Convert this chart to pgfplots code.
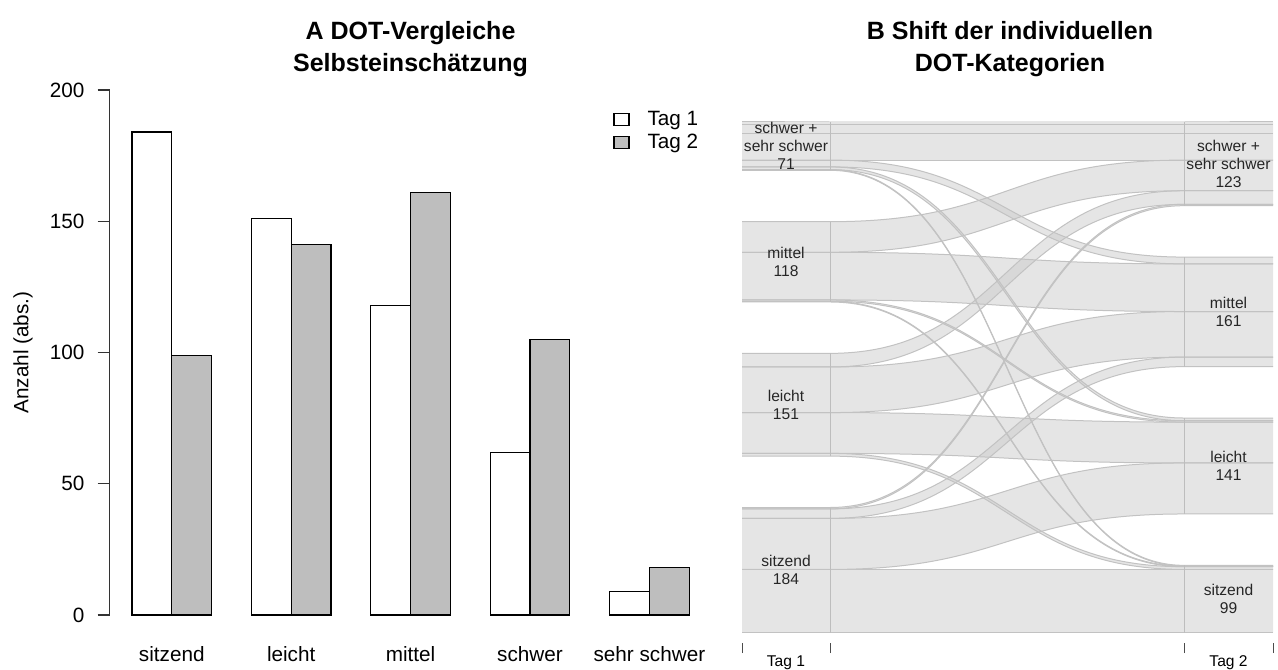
\documentclass[border=0pt]{standalone}
\usepackage{fontspec}
\setmainfont{Liberation Sans}
\usepackage{pgfplots}
\usepackage{pgfplotstable}
\pgfplotsset{compat=1.18}

\definecolor{tagtwo}{HTML}{BEBEBE}
\definecolor{flowfill}{HTML}{CBCBCB}
\definecolor{flowline}{HTML}{C2C2C2}
\definecolor{stratline}{HTML}{BDBDBD}

\newcommand\afont{\fontsize{10.35bp}{12.4bp}\selectfont}
\newcommand\tfont{\fontsize{12.5bp}{14bp}\selectfont\bfseries}
\newcommand\bfont{\fontsize{7.8bp}{9bp}\selectfont}

% Panel A data
\pgfplotstableread{
pos val
1.5 184
4.5 151
7.5 118
10.5 62
13.5 9
}\tagone
\pgfplotstableread{
pos val
2.5 99
5.5 141
8.5 161
11.5 105
14.5 18
}\tagtwotab

% Panel B flows: Tag-1 band (ya..yb) -> Tag-2 band (za..zb), gap between strata 75.5
\pgfplotstableread{
ya yb za zb
0 93 0 93
93 168 174.5 249.5
168 182 391 405
182 184 627.5 629.5
259.5 263.5 93 97
263.5 323.5 249.5 309.5
323.5 390.5 405 472
390.5 410.5 629.5 649.5
486 487 97 98
487 489 309.5 311.5
489 559 472 542
559 604 649.5 694.5
679.5 680.5 98 99
680.5 684.5 311.5 315.5
684.5 694.5 542 552
694.5 750.5 694.5 750.5
}\flowtab

\newcommand\flowpath[4]{\fill[flowfill,fill opacity=0.5] (axis cs:0,#1) -- (axis cs:88,#1) .. controls (axis cs:265,#1) and (axis cs:265,#3) .. (axis cs:442,#3) -- (axis cs:531,#3) -- (axis cs:531,#4) -- (axis cs:442,#4) .. controls (axis cs:265,#4) and (axis cs:265,#2) .. (axis cs:88,#2) -- (axis cs:0,#2) -- cycle;}
\newcommand\flowedge[4]{\draw[flowline,line width=0.5bp] (axis cs:0,#1) -- (axis cs:88,#1) .. controls (axis cs:265,#1) and (axis cs:265,#3) .. (axis cs:442,#3) -- (axis cs:531,#3);\draw[flowline,line width=0.5bp] (axis cs:0,#2) -- (axis cs:88,#2) .. controls (axis cs:265,#2) and (axis cs:265,#4) .. (axis cs:442,#4) -- (axis cs:531,#4);}

\begin{document}
\begin{tikzpicture}
\useasboundingbox (0,0) rectangle (639bp,335bp);
\pgfplotstablegetrowsof{\flowtab}
\pgfmathtruncatemacro\lastrow{\pgfplotsretval-1}
\gdef\allflows{}
\gdef\alledges{}
\foreach \r in {0,...,\lastrow}{%
  \pgfplotstablegetelem{\r}{ya}\of\flowtab\let\fa\pgfplotsretval
  \pgfplotstablegetelem{\r}{yb}\of\flowtab\let\fb\pgfplotsretval
  \pgfplotstablegetelem{\r}{za}\of\flowtab\let\fc\pgfplotsretval
  \pgfplotstablegetelem{\r}{zb}\of\flowtab\let\fd\pgfplotsretval
  \xdef\allflows{\unexpanded\expandafter{\allflows}\noexpand\flowpath{\fa}{\fb}{\fc}{\fd}}%
  \xdef\alledges{\unexpanded\expandafter{\alledges}\noexpand\flowedge{\fa}{\fb}{\fc}{\fd}}%
}

% Titles
\node[font=\tfont, anchor=base] at (205.25bp,315bp) {A DOT-Vergleiche};
\node[font=\tfont, anchor=base] at (205.25bp,299bp) {Selbsteinschätzung};
\node[font=\tfont, anchor=base] at (505bp,315bp) {B Shift der individuellen};
\node[font=\tfont, anchor=base] at (505bp,299bp) {DOT-Kategorien};

% Panel A
\begin{axis}[
  at={(54.85bp,27.5bp)}, anchor=south west,
  scale only axis, width=300.9bp, height=262.5bp,
  xmin=0.44, xmax=15.56, ymin=0, ymax=200,
  axis x line*=bottom, axis y line*=left,
  x axis line style={draw=none},
  y axis line style={black!80, line width=0.6bp},
  xtick={2,5,8,11,14},
  xticklabels={sitzend,leicht,mittel,schwer,sehr schwer},
  xtick style={draw=none},
  ytick={0,50,100,150,200},
  ytick style={black!80, line width=0.6bp},
  tick align=outside, major tick length=6bp,
  ticklabel style={font=\afont},
  /pgf/number format/assume math mode=true,
  xticklabel style={anchor=center, inner sep=0pt, yshift=-13.5bp},
  yticklabel style={anchor=east, inner sep=0pt, xshift=-6.5bp},
  ylabel={Anzahl (abs.)},
  every axis y label/.style={at={(rel axis cs:-0.1441,0.5)}, rotate=90, anchor=center, font=\afont},
  ybar, bar width=1, bar shift=0pt,
  clip=false,
  legend cell align=left,
  legend image code/.code={\draw[#1, line width=0.6bp] (0bp,-3bp) rectangle (7.5bp,3bp);},
  legend style={at={(rel axis cs:0.8363,0.9686)}, anchor=north west, draw=none, fill=none,
    font=\afont, inner sep=0pt, row sep=-1bp, column sep=7bp},
]
\addplot[fill=white, draw=black, line width=0.6bp] table[x=pos,y=val]{\tagone};
\addlegendentry{Tag 1}
\addplot[fill=tagtwo, draw=black, line width=0.6bp] table[x=pos,y=val]{\tagtwotab};
\addlegendentry{Tag 2}
\end{axis}

% Panel B
\begin{axis}[
  at={(371bp,13.5bp)}, anchor=south west,
  scale only axis, width=265.5bp, height=260.5bp,
  xmin=0, xmax=531, ymin=-15.1, ymax=750.5,
  axis x line*=bottom, axis y line=none,
  x axis line style={draw=none},
  xtick={0,88,442,531}, xticklabels={},
  xtick style={black!70, line width=0.5bp},
  tick align=outside, major tick length=5bp,
  extra x ticks={44,486.5},
  extra x tick labels={Tag 1,Tag 2},
  extra x tick style={major tick length=0pt, xtick style={draw=none},
     xticklabel style={font=\bfont, anchor=center, inner sep=0pt, yshift=-10bp}},
  clip=false,
]
\allflows
\alledges
\draw[flowline,line width=0.5bp] (axis cs:0,747.5) -- (axis cs:531,747.5);
\draw[flowline,line width=0.5bp] (axis cs:0,734) -- (axis cs:531,734);
% strata edges
\draw[stratline,line width=0.5bp] (axis cs:88,0) -- (axis cs:88,184);
\draw[stratline,line width=0.5bp] (axis cs:88,259.5) -- (axis cs:88,410.5);
\draw[stratline,line width=0.5bp] (axis cs:88,486) -- (axis cs:88,604);
\draw[stratline,line width=0.5bp] (axis cs:88,679.5) -- (axis cs:88,750.5);
\draw[stratline,line width=0.5bp] (axis cs:442,0) -- (axis cs:442,99);
\draw[stratline,line width=0.5bp] (axis cs:442,174.5) -- (axis cs:442,315.5);
\draw[stratline,line width=0.5bp] (axis cs:442,391) -- (axis cs:442,552);
\draw[stratline,line width=0.5bp] (axis cs:442,627.5) -- (axis cs:442,750.5);
% stratum labels
\node[font=\bfont, align=center, text=black!85, inner sep=0pt] at (axis cs:44,715) {schwer +\\sehr schwer\\71};
\node[font=\bfont, align=center, text=black!85, inner sep=0pt] at (axis cs:44,545) {mittel\\118};
\node[font=\bfont, align=center, text=black!85, inner sep=0pt] at (axis cs:44,335) {leicht\\151};
\node[font=\bfont, align=center, text=black!85, inner sep=0pt] at (axis cs:44,92) {sitzend\\184};
\node[font=\bfont, align=center, text=black!85, inner sep=0pt] at (axis cs:486.5,689) {schwer +\\sehr schwer\\123};
\node[font=\bfont, align=center, text=black!85, inner sep=0pt] at (axis cs:486.5,471.5) {mittel\\161};
\node[font=\bfont, align=center, text=black!85, inner sep=0pt] at (axis cs:486.5,245) {leicht\\141};
\node[font=\bfont, align=center, text=black!85, inner sep=0pt] at (axis cs:486.5,49.5) {sitzend\\99};
\end{axis}
\end{tikzpicture}
\end{document}
